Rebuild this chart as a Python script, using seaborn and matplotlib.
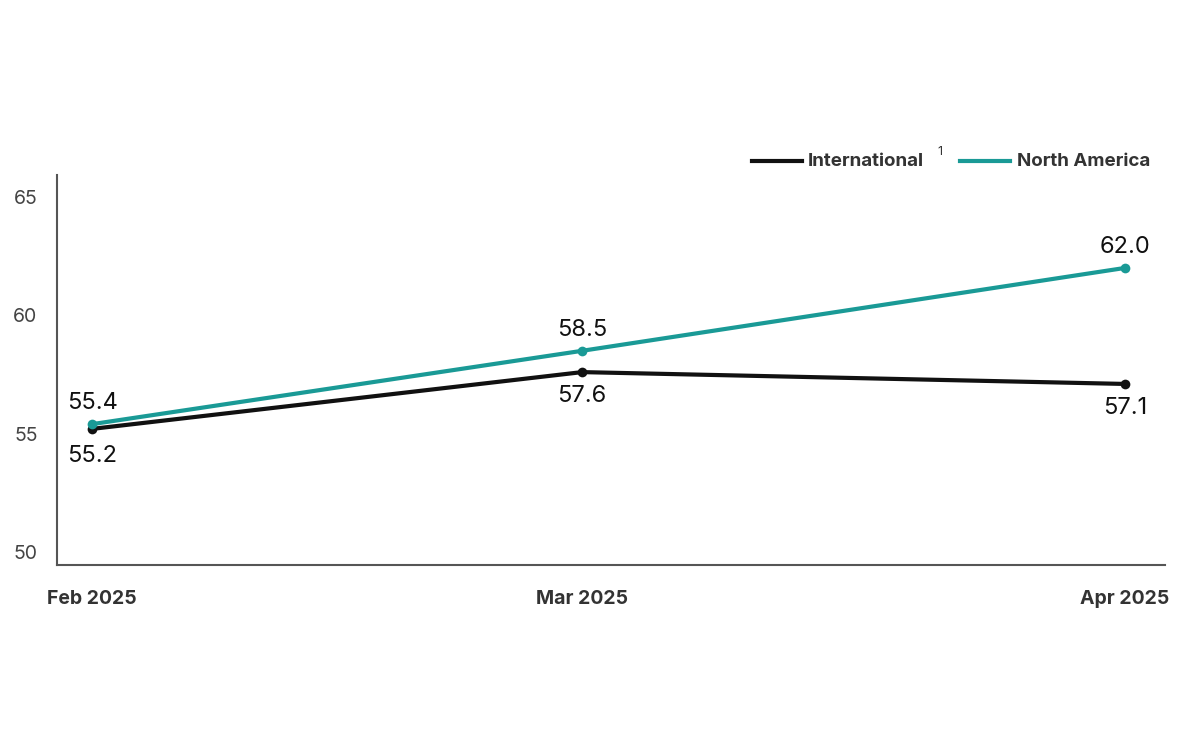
import matplotlib
matplotlib.use("Agg")
import matplotlib.pyplot as plt
import pandas as pd
import seaborn as sns

months = ["Feb 2025", "Mar 2025", "Apr 2025"]
dates = pd.to_datetime(["2025-02-01", "2025-03-01", "2025-04-01"])
international = [55.2, 57.6, 57.1]
north_america = [55.4, 58.5, 62.0]

days = list((dates - dates[0]).days)
df = pd.DataFrame({
    "day": days * 2,
    "value": international + north_america,
    "series": ["International"] * 3 + ["North America"] * 3,
})

plt.rcParams["font.family"] = "Inter"
fig = plt.figure(figsize=(12, 7.5), dpi=100)
ax = fig.add_axes([0.0475, 0.2467, 0.923, 0.52])
pal = {"International": "#111111", "North America": "#1a9a96"}
sns.lineplot(data=df, x="day", y="value", hue="series", palette=pal, marker="o",
             markersize=7, markeredgewidth=0, linewidth=3, legend=False, ax=ax)

ax.set_xlim(-2.0, 61.28)
ax.set_ylim(49.45, 65.93)
ax.set_xticks(days)
ax.set_xticklabels(months, fontsize=14, fontweight="bold", color="#333333")
ax.set_yticks([50, 55, 60, 65])
ax.set_yticklabels(["50", "55", "60", "65"], fontsize=14, color="#444444")
ax.tick_params(length=0, pad=14)
ax.tick_params(axis="x", pad=18)
ax.set_xlabel("")
ax.set_ylabel("")
for s in ["top", "right"]:
    ax.spines[s].set_visible(False)
for s in ["left", "bottom"]:
    ax.spines[s].set_color("#555555")
    ax.spines[s].set_linewidth(1.5)

# value labels
offs_i = [-1.15, -1.0, -1.0]
offs_n = [0.9, 0.9, 0.9]
for d, v, o in zip(days, international, offs_i):
    ax.text(d, v + o, f"{v:.1f}", ha="center", va="center", fontsize=17, color="#111111")
for d, v, o in zip(days, north_america, offs_n):
    ax.text(d, v + o, f"{v:.1f}", ha="center", va="center", fontsize=17, color="#111111")

# legend
fig.lines.append(plt.Line2D([752/1200, 802/1200], [1-161/750]*2, color="#111111", lw=3, transform=fig.transFigure))
fig.text(808/1200, 1-162/750, "International", fontsize=13.5, fontweight="bold", color="#333333", va="center")
fig.text(937/1200, 1-152/750, "1", fontsize=9, color="#333333", va="center")
fig.lines.append(plt.Line2D([960/1200, 1010/1200], [1-161/750]*2, color="#1a9a96", lw=3, transform=fig.transFigure))
fig.text(1017/1200, 1-162/750, "North America", fontsize=13.5, fontweight="bold", color="#333333", va="center")

fig.savefig("out.png", dpi=100)
